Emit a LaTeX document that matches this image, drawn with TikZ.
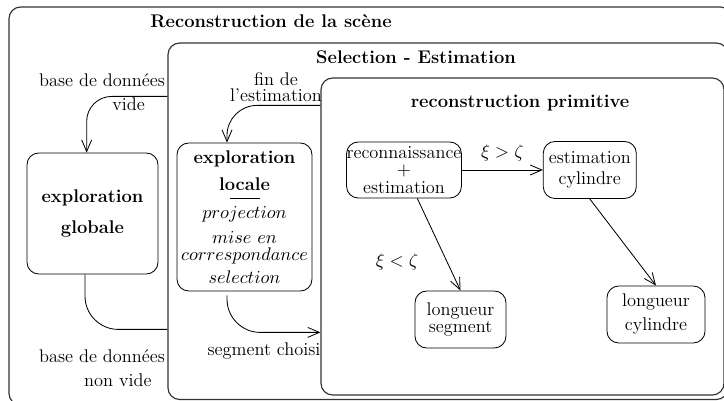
\documentclass[tikz,border=0pt]{standalone}
\usetikzlibrary{positioning,arrows.meta,fit,calc}

\begin{document}
\begin{tikzpicture}[
  x=0.6pt, y=-0.6pt,
  font=\fontsize{11}{13}\selectfont,
  panel/.style={draw=black!80, line width=0.7pt, rounded corners=7pt, inner sep=0pt},
  etat/.style={draw, rounded corners=7pt, align=center, inner sep=0pt, line width=0.5pt},
  ptitle/.style={font=\fontsize{11}{13}\selectfont\bfseries},
  arr/.style={-{Straight Barb[length=7pt,width=6pt]}, line width=0.5pt},
  lien/.style={line width=0.5pt},
  elabel/.style={align=center, inner sep=0pt}
]
\useasboundingbox (0,0) rectangle (724,401);
\clip (0,0) rectangle (724,401);
% Panels
\node[panel, fit={(9,7)(732,405)}] (scene) {};
\node[panel, fit={(168,43)(728,399.5)}] (sel) {};
\node[panel, fit={(321,78)(724,395)}] (prim) {};
\node[ptitle] (tscene) at (271,21) {Reconstruction de la scène};
\node[ptitle] (tsel) at (416,57) {Selection - Estimation};
\node[ptitle] (tprim) at (520,103) {reconstruction primitive};
% Exploration
\node[etat, minimum width=78.6pt, minimum height=72.6pt] (glob) at (92.5,213.5)
  {\textbf{exploration}\\[6pt]\textbf{globale}};
\node[etat, minimum width=81pt, minimum height=88.8pt] (loc) at (244.5,217)
  {\textbf{exploration}\\[3pt]\textbf{locale}\\[-8pt]\rule{18pt}{0.5pt}\\[-1.2pt]
   $projection$\\[2pt]$mise~en$\\[-3pt]$correspondance$\\[0.8pt]$selection$};
% Reconstruction primitive
\node[etat, minimum height=33.6pt] (reconn) at (404,170)
  {reconnaissance\\[-2.5pt]$+$\\[-2.5pt]estimation};
\node[etat, minimum width=55.8pt, minimum height=34.2pt, right=48.6pt of reconn] (estcyl)
  {estimation\\cylindre};
\node[etat, minimum width=54.6pt, minimum height=34.2pt] (lseg) at (460.5,319.5)
  {longueur\\[-3pt]segment};
\node[etat, minimum width=58.8pt, minimum height=34.2pt] (lcyl) at (656,314.5)
  {longueur\\[1.4pt]cylindre};
\draw[arr] (reconn) -- node[above=2pt] (lsup) {$\xi>\zeta$} (estcyl);
\draw[arr] (reconn) -- (lseg.north);
\node (linf) at (397,262) {$\xi<\zeta$};
\draw[arr] (estcyl.south) -- (lcyl.north);
% Transitions
\coordinate (cvide) at ($(sel.north west)+(0,54)$);
\coordinate (cnonvide) at ($(sel.north west)+(0,287)$);
\coordinate (cfin) at ($(prim.north west)+(0,28)$);
\coordinate (cchoisi) at ($(prim.north west)+(0,255)$);
\draw[arr, rounded corners=15pt] (cvide) -| ([xshift=-3.5pt]glob.north);
\draw[lien, rounded corners=20pt] ([xshift=-4.5pt]glob.south) |- (cnonvide);
\draw[arr, rounded corners=18pt] (cfin) -| ([xshift=-10.5pt]loc.north);
\draw[arr, rounded corners=20pt] ([xshift=-10.5pt,yshift=-2.4pt]loc.south) |- (cchoisi);
\node[elabel] (lvide) at (102,92) {base de données\\[1.4pt]\hspace{32pt}vide};
\node[elabel] (lnonvide) at (102,368) {base de données\\[1.4pt]\hspace{19pt}non vide};
\node[elabel] (lfin) at (276,87) {fin de\\[-3.4pt]l'estimation};
\node[elabel] (lchoisi) at (264,351) {segment choisi};
\end{tikzpicture}
\end{document}
